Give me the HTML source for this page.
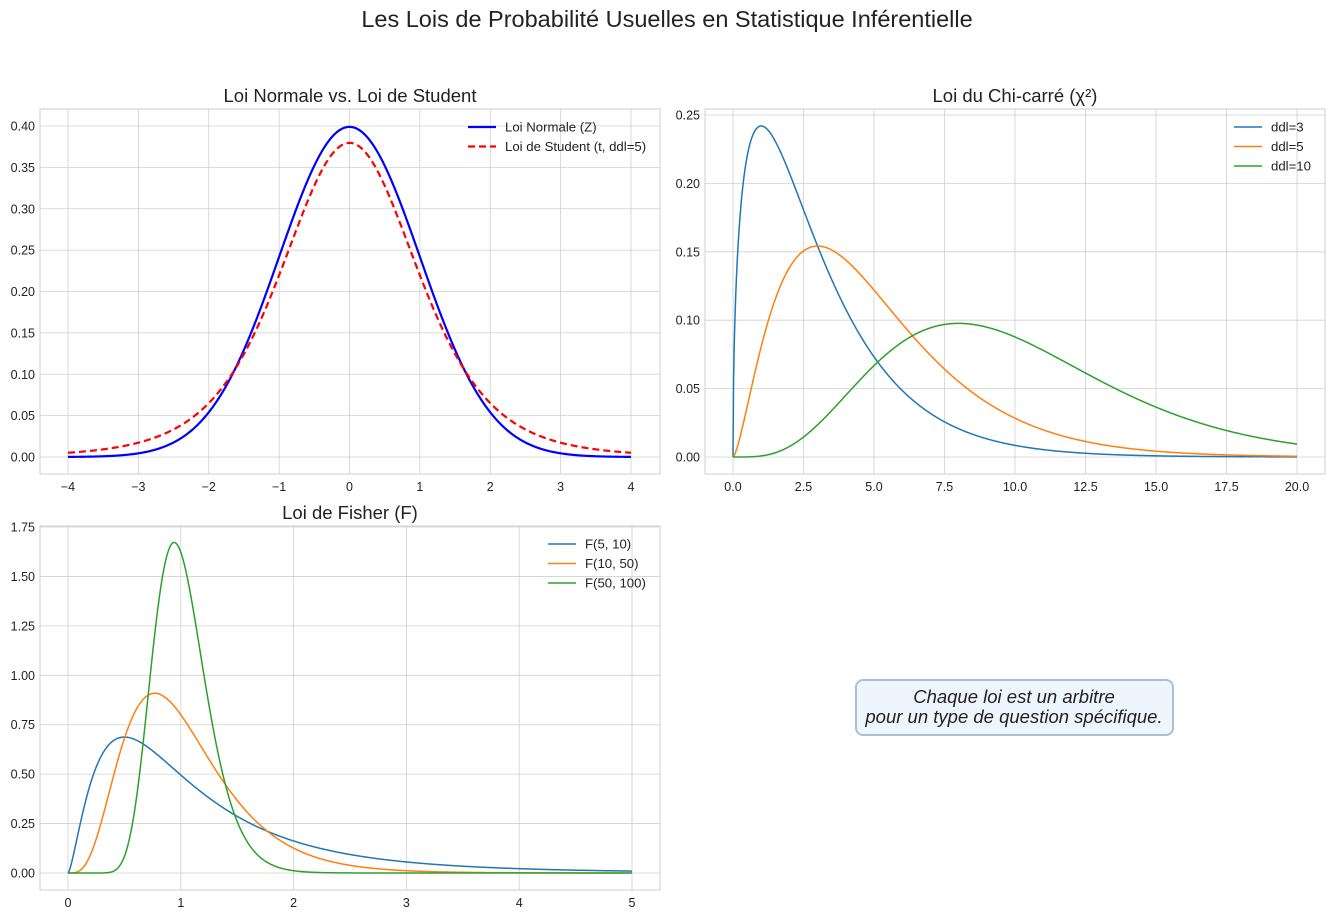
<!DOCTYPE html>
<html><head><meta charset="utf-8"><style>
body{margin:0;background:#fff;}
svg text{font-family:"Liberation Sans","DejaVu Sans",sans-serif;}
</style></head><body>
<svg id="s" width="1334" height="916" xmlns="http://www.w3.org/2000/svg">
<text x="667" y="27" font-size="23.5" text-anchor="middle" fill="#222">Les Lois de Probabilité Usuelles en Statistique Inférentielle</text>
</svg>
<script>
var S=document.getElementById('s'),NS='http://www.w3.org/2000/svg';
function el(t,a,txt){var e=document.createElementNS(NS,t);for(var k in a)e.setAttribute(k,a[k]);if(txt!=null)e.textContent=txt;S.appendChild(e);return e;}
function lg(z){var g=7,c=[0.99999999999980993,676.5203681218851,-1259.1392167224028,771.32342877765313,-176.61502916214059,12.507343278686905,-0.13857109526572012,9.9843695780195716e-6,1.5056327351493116e-7];
if(z<0.5)return Math.log(Math.PI/Math.sin(Math.PI*z))-lg(1-z);z-=1;var x=c[0];for(var i=1;i<g+2;i++)x+=c[i]/(z+i);var t=z+g+0.5;return 0.5*Math.log(2*Math.PI)+(z+0.5)*Math.log(t)-t+Math.log(x);}
function norm(x){return Math.exp(-x*x/2)/Math.sqrt(2*Math.PI);}
function tp(x,n){return Math.exp(lg((n+1)/2)-lg(n/2))/Math.sqrt(n*Math.PI)*Math.pow(1+x*x/n,-(n+1)/2);}
function chi(x,k){if(x<=0)return 0;return Math.exp((k/2-1)*Math.log(x)-x/2-(k/2)*Math.log(2)-lg(k/2));}
function fp(x,d1,d2){if(x<=0)return 0;return Math.exp(0.5*(d1*Math.log(d1*x)+d2*Math.log(d2)-(d1+d2)*Math.log(d1*x+d2))-Math.log(x)-(lg(d1/2)+lg(d2/2)-lg((d1+d2)/2)));}
function panel(o){
 el('rect',{x:o.x0,y:o.y0,width:o.x1-o.x0,height:o.y1-o.y0,fill:'#fff'});
 var X=function(v){return o.ax+(v-o.xa)*o.sx},Y=function(v){return o.ay-(v-o.ya)*o.sy};
 o.xt.forEach(function(v){var x=X(v);el('line',{x1:x,x2:x,y1:o.y0,y2:o.y1,stroke:'#d0d0d0','stroke-width':0.8});el('text',{x:x,y:o.y1+17,'font-size':12.5,'text-anchor':'middle',fill:'#222'},o.xf(v));});
 o.yt.forEach(function(v){var y=Y(v);el('line',{x1:o.x0,x2:o.x1,y1:y,y2:y,stroke:'#d0d0d0','stroke-width':0.8});el('text',{x:o.x0-5,y:y+4.5,'font-size':12.5,'text-anchor':'end',fill:'#222'},v.toFixed(2));});
 el('rect',{x:o.x0,y:o.y0,width:o.x1-o.x0,height:o.y1-o.y0,fill:'none',stroke:'#cfcfcf','stroke-width':1});
 el('text',{x:(o.x0+o.x1)/2,y:o.y0-7,'font-size':18.5,'text-anchor':'middle',fill:'#222'},o.title);
 o.series.forEach(function(s){var d='';for(var i=0;i<=1000;i++){var v=o.lo+(o.hi-o.lo)*i/1000;var f=s.f(v);d+=(i?'L':'M')+X(v).toFixed(2)+','+Y(f).toFixed(2);}
  el('path',{d:d,fill:'none',stroke:s.c,'stroke-width':s.w||1.5,'stroke-dasharray':s.dash||'none'});});
 var lx=o.x1-o.lw,ly=o.y0+18;
 o.series.forEach(function(s,i){var y=ly+i*19.5;el('line',{x1:lx,x2:lx+28,y1:y,y2:y,stroke:s.c,'stroke-width':s.w||1.5,'stroke-dasharray':s.dash||'none'});el('text',{x:lx+37,y:y+4.5,'font-size':13.2,fill:'#222'},s.n);});
}
panel({x0:40,x1:660,y0:109,y1:474,ax:68,xa:-4,sx:70.375,ay:457,ya:0,sy:827.5,lo:-4,hi:4,title:'Loi Normale vs. Loi de Student',
 xt:[-4,-3,-2,-1,0,1,2,3,4],xf:function(v){return v<0?'\u2212'+(-v):''+v},yt:[0,0.05,0.1,0.15,0.2,0.25,0.3,0.35,0.4],lw:192,
 series:[{f:norm,c:'#0000ff',w:2.2,n:'Loi Normale (Z)'},{f:function(x){return tp(x,5)},c:'#ff0000',w:2.2,dash:'7,4',n:'Loi de Student (t, ddl=5)'}]});
panel({x0:705,x1:1325,y0:109,y1:474,ax:733,xa:0,sx:28.2,ay:457,ya:0,sy:1368,lo:0,hi:20,title:'Loi du Chi-carré (χ²)',
 xt:[0,2.5,5,7.5,10,12.5,15,17.5,20],xf:function(v){return v.toFixed(1)},yt:[0,0.05,0.1,0.15,0.2,0.25],lw:91,
 series:[{f:function(x){return Math.min(chi(x,3),0.4)},c:'#1f77b4',n:'ddl=3'},{f:function(x){return chi(x,5)},c:'#ff7f0e',n:'ddl=5'},{f:function(x){return chi(x,10)},c:'#2ca02c',n:'ddl=10'}]});
panel({x0:40,x1:660,y0:526,y1:890,ax:68,xa:0,sx:112.8,ay:873,ya:0,sy:197.7,lo:0,hi:5,title:'Loi de Fisher (F)',
 xt:[0,1,2,3,4,5],xf:function(v){return ''+v},yt:[0,0.25,0.5,0.75,1,1.25,1.5,1.75],lw:112,
 series:[{f:function(x){return fp(x,5,10)},c:'#1f77b4',n:'F(5, 10)'},{f:function(x){return fp(x,10,50)},c:'#ff7f0e',n:'F(10, 50)'},{f:function(x){return fp(x,50,100)},c:'#2ca02c',n:'F(50, 100)'}]});
el('rect',{x:856,y:680,width:317,height:55,rx:7,fill:'#eef5fc',stroke:'#a9c0dc','stroke-width':2});
el('text',{x:1014,y:703,'font-size':18.5,'font-style':'italic','text-anchor':'middle',fill:'#222'},'Chaque loi est un arbitre');
el('text',{x:1014,y:723,'font-size':18.5,'font-style':'italic','text-anchor':'middle',fill:'#222'},'pour un type de question spécifique.');
</script>
</body></html>
